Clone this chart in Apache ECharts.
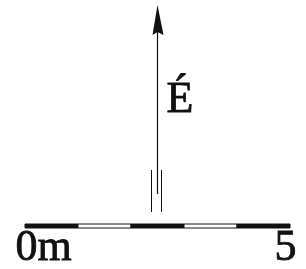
<!DOCTYPE html>
<html><head><meta charset="utf-8">
<script src="https://cdn.jsdelivr.net/npm/echarts@6/dist/echarts.min.js"></script>
<style>html,body{margin:0;padding:0;background:#fff}#c{width:306px;height:269px}</style>
</head><body><div id="c"></div>
<script>
// Scale bar data (metres)
const scaleBreaks = [0, 1, 2, 3, 4, 5];
const segmentFills = ['#111', '#fff', '#111', '#fff', '#111'];
const tickLabels = ['0m', '5'];
const tickValues = [0, 5];
const northLabel = 'É';

const segments = segmentFills.map((f, i) => [scaleBreaks[i], scaleBreaks[i + 1], f]);

const chart = echarts.init(document.getElementById('c'), null, {renderer: 'canvas'});
chart.setOption({
  backgroundColor: '#fff',
  animation: false,
  grid: {left: 25, right: 16, top: 224, height: 4},
  xAxis: {type: 'value', min: 0, max: 5, show: false},
  yAxis: {type: 'value', min: 0, max: 1, show: false},
  series: [{
    type: 'custom',
    data: segments,
    renderItem: function (params, api) {
      const p0 = api.coord([api.value(0), 1]);
      const p1 = api.coord([api.value(1), 0]);
      const fill = segments[params.dataIndex][2];
      return {
        type: 'rect',
        shape: {x: p0[0], y: p0[1], width: p1[0] - p0[0], height: p1[1] - p0[1]},
        style: {fill: fill, stroke: '#111', lineWidth: 1}
      };
    }
  }]
});

const xs = tickValues.map(v => chart.convertToPixel({xAxisIndex: 0}, v));
const txt = {fontFamily: 'Liberation Serif', fontSize: 44, fill: '#111', stroke: '#111', lineWidth: 0.8};
chart.setOption({
  graphic: [
    {type: 'text', left: xs[0] - 10, top: 226, style: Object.assign({text: tickLabels[0]}, txt)},
    {type: 'text', right: 306 - xs[1] - 7, top: 226, style: Object.assign({text: tickLabels[1]}, txt)},
    {type: 'text', left: 166, top: 78, style: Object.assign({text: northLabel}, txt)},
    {type: 'polygon', shape: {points: [[157.5, 5], [152.5, 35], [157.5, 32], [163.5, 35]]}, style: {fill: '#111'}},
    {type: 'line', shape: {x1: 157.5, y1: 30, x2: 157.5, y2: 194}, style: {stroke: '#111', lineWidth: 1.2}},
    {type: 'line', shape: {x1: 151.5, y1: 170, x2: 151.5, y2: 212}, style: {stroke: '#111', lineWidth: 1}},
    {type: 'line', shape: {x1: 161.5, y1: 170, x2: 161.5, y2: 212}, style: {stroke: '#111', lineWidth: 1}}
  ]
});
</script></body></html>
